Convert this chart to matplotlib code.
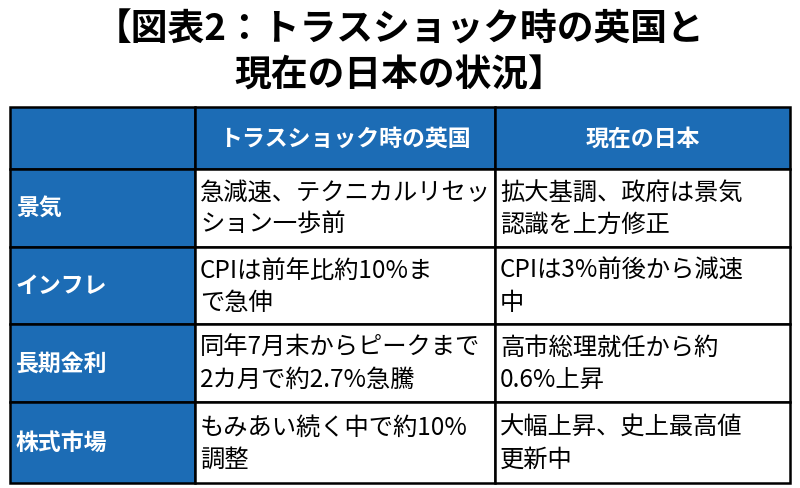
import matplotlib
matplotlib.use("Agg")
import matplotlib.pyplot as plt
from matplotlib.patches import Rectangle

plt.rcParams['font.family'] = ['Noto Sans CJK JP', 'DejaVu Sans']

title_lines = ["【図表2：トラスショック時の英国と", "現在の日本の状況】"]
headers = ["", "トラスショック時の英国", "現在の日本"]
row_labels = ["景気", "インフレ", "長期金利", "株式市場"]
col_uk = ["急減速、テクニカルリセッ\nション一歩前", "CPIは前年比約10%ま\nで急伸",
          "同年7月末からピークまで\n2カ月で約2.7%急騰", "もみあい続く中で約10%\n調整"]
col_jp = ["拡大基調、政府は景気\n認識を上方修正", "CPIは3%前後から減速\n中",
          "高市総理就任から約\n0.6%上昇", "大幅上昇、史上最高値\n更新中"]

W, H = 800, 489
fig = plt.figure(figsize=(W/100, H/100), dpi=100)
ax = fig.add_axes([0, 0, 1, 1])
ax.set_xlim(0, W); ax.set_ylim(H, 0); ax.axis('off')

blue = '#1c6cb5'
xs = [10, 195, 495, 790]
ys = [108, 170, 248, 325, 403, 484]

ax.text(400, 30, title_lines[0], ha='center', va='center', fontsize=26.5, fontweight='bold')
ax.text(400, 76, title_lines[1], ha='center', va='center', fontsize=26.5, fontweight='bold')

for r in range(5):
    for c in range(3):
        x0, x1 = xs[c], xs[c+1]; y0, y1 = ys[r], ys[r+1]
        fill = blue if (r == 0 or c == 0) else 'white'
        ax.add_patch(Rectangle((x0, y0), x1-x0, y1-y0, facecolor=fill, edgecolor='black', lw=1.8))
        if r == 0:
            if headers[c]:
                ax.text((x0+x1)/2, (y0+y1)/2, headers[c], ha='center', va='center',
                        color='white', fontsize=16.5, fontweight='bold')
        elif c == 0:
            ax.text(x0+6, (y0+y1)/2, row_labels[r-1], ha='left', va='center',
                    color='white', fontsize=16.5, fontweight='bold')
        else:
            txt = (col_uk if c == 1 else col_jp)[r-1]
            ax.text(x0+5, (y0+y1)/2, txt, ha='left', va='center', color='black',
                    fontsize=17.5, linespacing=1.3)

fig.savefig('out.png', dpi=100)
